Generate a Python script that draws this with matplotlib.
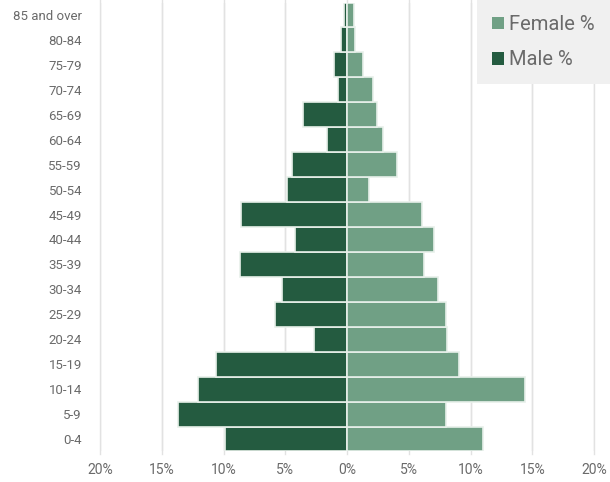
import numpy as np
import matplotlib.pyplot as plt
from matplotlib.patches import Patch

# grupos de edad, de abajo hacia arriba
grupos = ['0-4', '5-9', '10-14', '15-19', '20-24', '25-29', '30-34', '35-39',
          '40-44', '45-49', '50-54', '55-59', '60-64', '65-69', '70-74',
          '75-79', '80-84', '85 and over']
hombres = [9.9, 13.7, 12.05, 10.6, 2.65, 5.8, 5.3, 8.7,
           4.2, 8.6, 4.9, 4.5, 1.6, 3.6, 0.7, 1.1, 0.5, 0.25]
mujeres = [11.0, 8.0, 14.4, 9.05, 8.1, 8.0, 7.4, 6.2,
           7.0, 6.1, 1.8, 4.0, 2.9, 2.4, 2.1, 1.3, 0.6, 0.55]
ticks = [-20, -15, -10, -5, 0, 5, 10, 15, 20]
etiquetas_x = ['20%', '15%', '10%', '5%', '0%', '5%', '10%', '15%', '20%']

color_h = '#245b40'
color_m = '#70a085'
gris = '#6a6a6a'

plt.rcParams['font.family'] = ['Roboto', 'DejaVu Sans']

fig = plt.figure(figsize=(6.1, 4.82), dpi=100)
ax = fig.add_axes([0.164, 0.0633, 0.81, 0.9315])

y = np.arange(len(grupos))
ax.barh(y, -np.array(hombres), height=1.0, color=color_h, edgecolor='#e8f0ea',
        linewidth=1.2, zorder=3)
ax.barh(y, mujeres, height=1.0, color=color_m, edgecolor='#e8f0ea',
        linewidth=1.2, zorder=3)

ax.set_xlim(-20, 20)
ax.set_ylim(-0.5, 17.5)
ax.set_xticks(ticks)
ax.set_xticklabels(etiquetas_x)
ax.set_yticks(y)
ax.set_yticklabels(grupos)
ax.tick_params(axis='both', length=0, colors=gris, labelsize=10)
ax.tick_params(axis='y', labelsize=9.5)
ax.tick_params(axis='x', pad=8)
ax.tick_params(axis='y', pad=13)
for s in ax.spines.values():
    s.set_visible(False)
ax.grid(axis='x', color='#e2e2e2', linewidth=1, zorder=0)
ax.set_axisbelow(True)

# la línea de cuadrícula se prolonga un poco por arriba y abajo
for t in ticks:
    ax.plot([t, t], [-0.6, 17.7], color='#e2e2e2', linewidth=1, zorder=0,
            clip_on=False)

handles = [Patch(facecolor=color_m, label='Female %'),
           Patch(facecolor=color_h, label='Male %')]
leg = fig.legend(handles=handles, loc='upper right', bbox_to_anchor=(1.0, 1.0),
                 frameon=True, fancybox=False, fontsize=14.5, labelcolor=gris,
                 handlelength=0.6, handleheight=0.6, handletextpad=0.25,
                 labelspacing=0.8, borderpad=0.75, borderaxespad=0.0)
leg.get_frame().set_facecolor('#f0f0f0')
leg.get_frame().set_edgecolor('none')
leg.get_frame().set_alpha(1)

fig.savefig('out.png', dpi=100, facecolor='white')
